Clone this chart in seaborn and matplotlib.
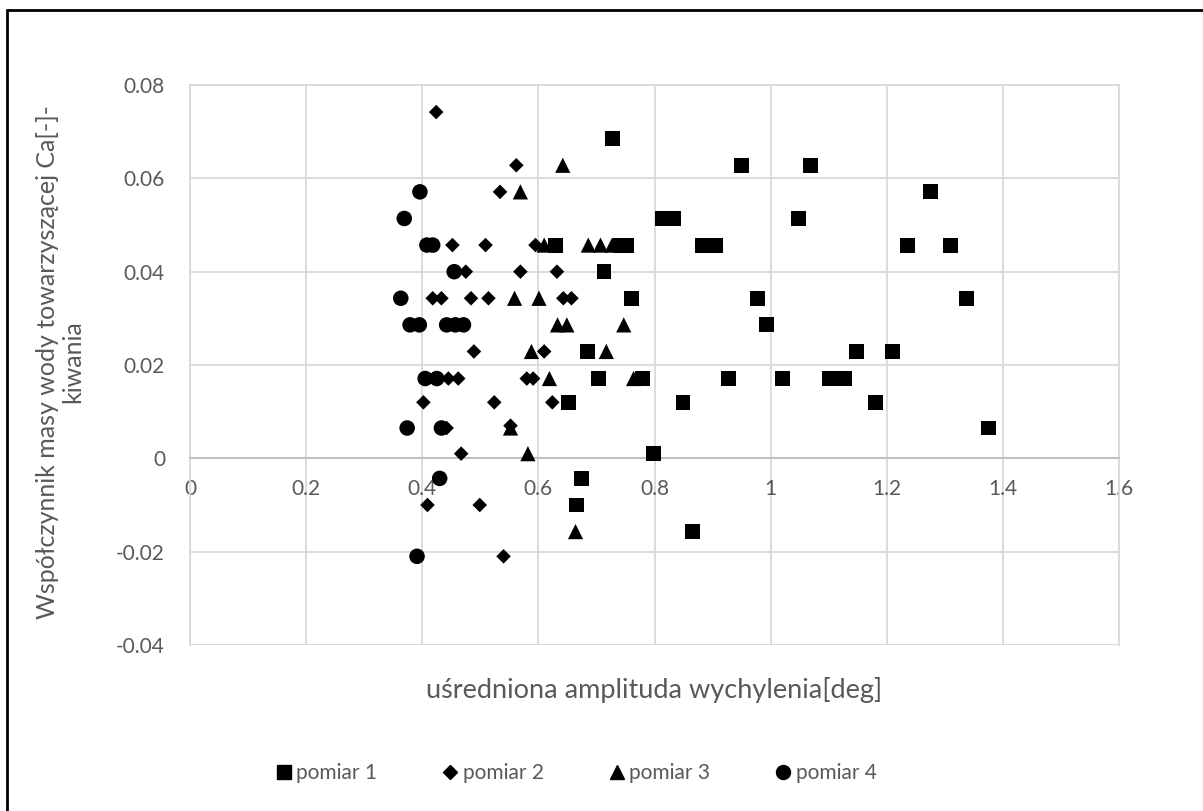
import numpy as np
import pandas as pd
import matplotlib
matplotlib.use('Agg')
import matplotlib.pyplot as plt
from matplotlib.lines import Line2D
import seaborn as sns

# dane
p1_x = [0.630, 0.652, 0.665, 0.675, 0.684, 0.703, 0.713, 0.727, 0.741, 0.752, 0.760, 0.779,
        0.798, 0.813, 0.833, 0.849, 0.865, 0.882, 0.905, 0.928, 0.950, 0.978, 0.993, 1.020,
        1.048, 1.068, 1.101, 1.128, 1.148, 1.181, 1.210, 1.236, 1.276, 1.310, 1.338, 1.375]
p1_y = [0.0457, 0.0120, -0.0100, -0.0043, 0.0229, 0.0171, 0.0400, 0.0686, 0.0457, 0.0457, 0.0343, 0.0171,
        0.0010, 0.0514, 0.0514, 0.0120, -0.0157, 0.0457, 0.0457, 0.0171, 0.0628, 0.0343, 0.0286, 0.0171,
        0.0514, 0.0628, 0.0171, 0.0171, 0.0229, 0.0120, 0.0229, 0.0457, 0.0571, 0.0457, 0.0343, 0.0065]

p2_x = [0.424, 0.562, 0.534, 0.452, 0.509, 0.595, 0.475, 0.569, 0.632, 0.418, 0.433, 0.484,
        0.514, 0.643, 0.657, 0.489, 0.610, 0.445, 0.462, 0.580, 0.591, 0.402, 0.524, 0.624,
        0.442, 0.552, 0.467, 0.409, 0.499, 0.540]
p2_y = [0.0742, 0.0628, 0.0571, 0.0457, 0.0457, 0.0457, 0.0400, 0.0400, 0.0400, 0.0343, 0.0343, 0.0343,
        0.0343, 0.0343, 0.0343, 0.0229, 0.0229, 0.0171, 0.0171, 0.0171, 0.0171, 0.0120, 0.0120, 0.0120,
        0.0065, 0.0070, 0.0010, -0.0100, -0.0100, -0.0210]

p3_x = [0.642, 0.569, 0.610, 0.686, 0.707, 0.727, 0.559, 0.601, 0.633, 0.649, 0.747, 0.588,
        0.717, 0.619, 0.764, 0.552, 0.582, 0.664]
p3_y = [0.0628, 0.0571, 0.0457, 0.0457, 0.0457, 0.0457, 0.0343, 0.0343, 0.0286, 0.0286, 0.0286, 0.0229,
        0.0229, 0.0171, 0.0171, 0.0065, 0.0010, -0.0157]

p4_x = [0.396, 0.369, 0.408, 0.418, 0.455, 0.363, 0.379, 0.395, 0.442, 0.457, 0.471, 0.405,
        0.425, 0.374, 0.433, 0.430, 0.391]
p4_y = [0.0571, 0.0514, 0.0457, 0.0457, 0.0400, 0.0343, 0.0286, 0.0286, 0.0286, 0.0286, 0.0286, 0.0171,
        0.0171, 0.0065, 0.0065, -0.0043, -0.0210]

series_names = ['pomiar 1', 'pomiar 2', 'pomiar 3', 'pomiar 4']
x_ticks = [0, 0.2, 0.4, 0.6, 0.8, 1.0, 1.2, 1.4, 1.6]
x_tick_labels = ['0', '0.2', '0.4', '0.6', '0.8', '1', '1.2', '1.4', '1.6']
y_ticks = [-0.04, -0.02, 0, 0.02, 0.04, 0.06, 0.08]
y_tick_labels = ['-0.04', '-0.02', '0', '0.02', '0.04', '0.06', '0.08']

df = pd.concat([
    pd.DataFrame({'x': p1_x, 'y': p1_y, 'pomiar': series_names[0]}),
    pd.DataFrame({'x': p2_x, 'y': p2_y, 'pomiar': series_names[1]}),
    pd.DataFrame({'x': p3_x, 'y': p3_y, 'pomiar': series_names[2]}),
    pd.DataFrame({'x': p4_x, 'y': p4_y, 'pomiar': series_names[3]}),
], ignore_index=True)

sns.set_theme(style='white')
plt.rcParams['font.family'] = ['Lato', 'DejaVu Sans']

txt = '#595959'
markers = {'pomiar 1': 's', 'pomiar 2': 'D', 'pomiar 3': '^', 'pomiar 4': 'o'}
sizes = {'pomiar 1': 115, 'pomiar 2': 55, 'pomiar 3': 120, 'pomiar 4': 125}

fig = plt.figure(figsize=(12.03, 8.11), dpi=100)
ax = fig.add_axes([190 / 1203, 1 - 645 / 811, (1119 - 190) / 1203, (645 - 85) / 811])

for name in series_names:
    sub = df[df['pomiar'] == name]
    sns.scatterplot(data=sub, x='x', y='y', marker=markers[name], s=sizes[name],
                    color='black', edgecolor='none', linewidth=0, ax=ax, legend=False, zorder=3)

ax.set_xlim(0, 1.6)
ax.set_ylim(-0.04, 0.08)
ax.set_xticks(x_ticks)
ax.set_xticklabels(x_tick_labels)
ax.set_yticks(y_ticks)
ax.set_yticklabels(y_tick_labels)
ax.grid(True, color='#d9d9d9', linewidth=1.3, zorder=0)
ax.set_axisbelow(True)

for side in ['top', 'right', 'left']:
    ax.spines[side].set_color('#d9d9d9')
    ax.spines[side].set_linewidth(1.3)
ax.spines['bottom'].set_position(('data', 0))
ax.spines['bottom'].set_color('#bfbfbf')
ax.spines['bottom'].set_linewidth(1.5)
ax.axhline(-0.04, color='#d9d9d9', linewidth=1.3, zorder=0)

ax.tick_params(axis='x', length=0, pad=15, labelsize=15, labelcolor=txt)
ax.tick_params(axis='y', length=0, pad=18, labelsize=15, labelcolor=txt)
ax.set_xlabel('')
ax.set_ylabel('')

fig.text((190 + 1119) / 2 / 1203, 1 - 690 / 811, 'uśredniona amplituda wychylenia[deg]',
         ha='center', va='center', fontsize=19.5, color=txt)
fig.text(60 / 1203, 1 - 362 / 811, 'Współczynnik masy wody towarzyszącej Ca[-]-\nkiwania',
         ha='center', va='center', rotation=90, fontsize=18, color=txt, linespacing=1.1,
         multialignment='center')

handles = [Line2D([], [], linestyle='none', marker=markers[n], color='black',
                  markersize=np.sqrt(sizes[n]) * 0.9) for n in series_names]
fig.legend(handles, series_names, loc='center', bbox_to_anchor=(575 / 1203, 1 - 773 / 811),
           ncol=4, frameon=False, fontsize=15, labelcolor=txt, handletextpad=0.1,
           columnspacing=3.0, handlelength=1.0)

# ramka wykresu
fig.add_artist(plt.Line2D([7 / 1203, 7 / 1203], [0, 1 - 10 / 811], color='black', lw=2,
                          transform=fig.transFigure))
fig.add_artist(plt.Line2D([7 / 1203, 1], [1 - 10 / 811, 1 - 10 / 811], color='black', lw=2,
                          transform=fig.transFigure))

fig.savefig('out.png', dpi=100)
